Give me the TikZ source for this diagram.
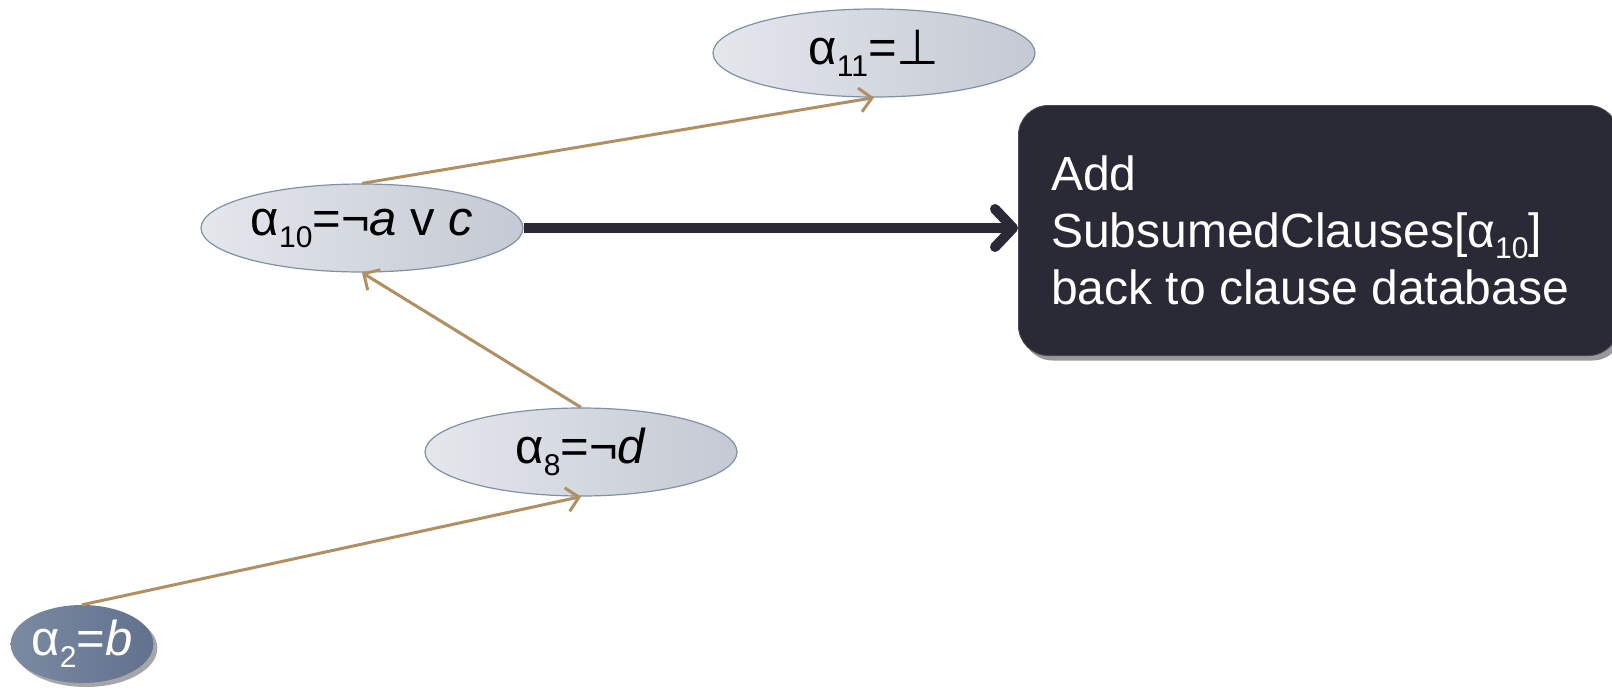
\documentclass[tikz,border=0pt]{standalone}
\usepackage{fontspec}
\setmainfont{Liberation Sans}
\newfontfamily\symfnt{DejaVu Sans}
\usetikzlibrary{shapes.geometric,arrows.meta,shadows}
\definecolor{tan}{RGB}{176,144,98}
\definecolor{boxdark}{RGB}{42,42,54}
\definecolor{ellborder}{RGB}{128,144,166}
\newcommand\sbA[1]{\raisebox{-12pt}{\fontsize{30}{30}\selectfont #1}}
\newcommand\sbB[1]{\raisebox{-11pt}{\fontsize{30}{30}\selectfont #1}}
\tikzset{
  lightell/.style={ellipse, draw=ellborder, line width=1.2pt, left color={rgb,255:red,228;green,231;blue,236}, right color={rgb,255:red,196;green,201;blue,211}, inner sep=0pt, font=\fontsize{49}{55}\selectfont},
  darkell/.style={ellipse, draw=none, left color={rgb,255:red,122;green,138;blue,162}, right color={rgb,255:red,98;green,114;blue,142}, text=white, inner sep=0pt, font=\fontsize{49}{55}\selectfont, drop shadow={shadow xshift=4pt, shadow yshift=-4pt, opacity=0.35, fill=black}},
  infobox/.style={rectangle, rounded corners=30pt, fill=boxdark, draw={rgb,255:red,70;green,70;blue,84}, line width=1pt, drop shadow={shadow xshift=4pt, shadow yshift=-5pt, opacity=0.4, fill=black}},
  tanedge/.style={draw=tan, line width=3pt, -{Straight Barb[length=12pt,width=24pt]}},
  bigarrow/.style={draw=boxdark, line width=10pt, -{Straight Barb[length=18pt,width=38pt,round]}}
}
\begin{document}
\begin{tikzpicture}[x=1pt,y=-1pt]
\useasboundingbox (0,0) rectangle (1612,697);
\node[infobox, minimum width=600pt, minimum height=250pt, anchor=north west] (box) at (1018,105) {};
\node[text=white, align=left, anchor=west, inner sep=0pt, font=\fontsize{48}{57}\selectfont] (boxtext) at (1051,230) {Add\\SubsumedClauses[α\sbB{10}]\\back to clause database};
\node[lightell, minimum width=322pt, minimum height=88pt] (a11) at (874,53) {α\sbA{11}=\symfnt ⊥};
\node[lightell, minimum width=322pt, minimum height=88pt] (a10) at (362,228) {α\sbA{10}=¬\textit{a} v \textit{c}};
\node[lightell, minimum width=312pt, minimum height=88pt] (a8) at (581,452) {α\sbA{8}=¬\textit{d}};
\node[darkell, minimum width=138pt, minimum height=78pt] (a2) at (82,644) {α\sbA{2}=\textit{b}};
\draw[tanedge] (a2.north) -- (a8.south);
\draw[tanedge] (a8.north) -- (a10.south);
\draw[tanedge] (a10.north) -- (a11.south);
\draw[bigarrow] (a10.east) -- (box.west |- a10.east);
\end{tikzpicture}
\end{document}
